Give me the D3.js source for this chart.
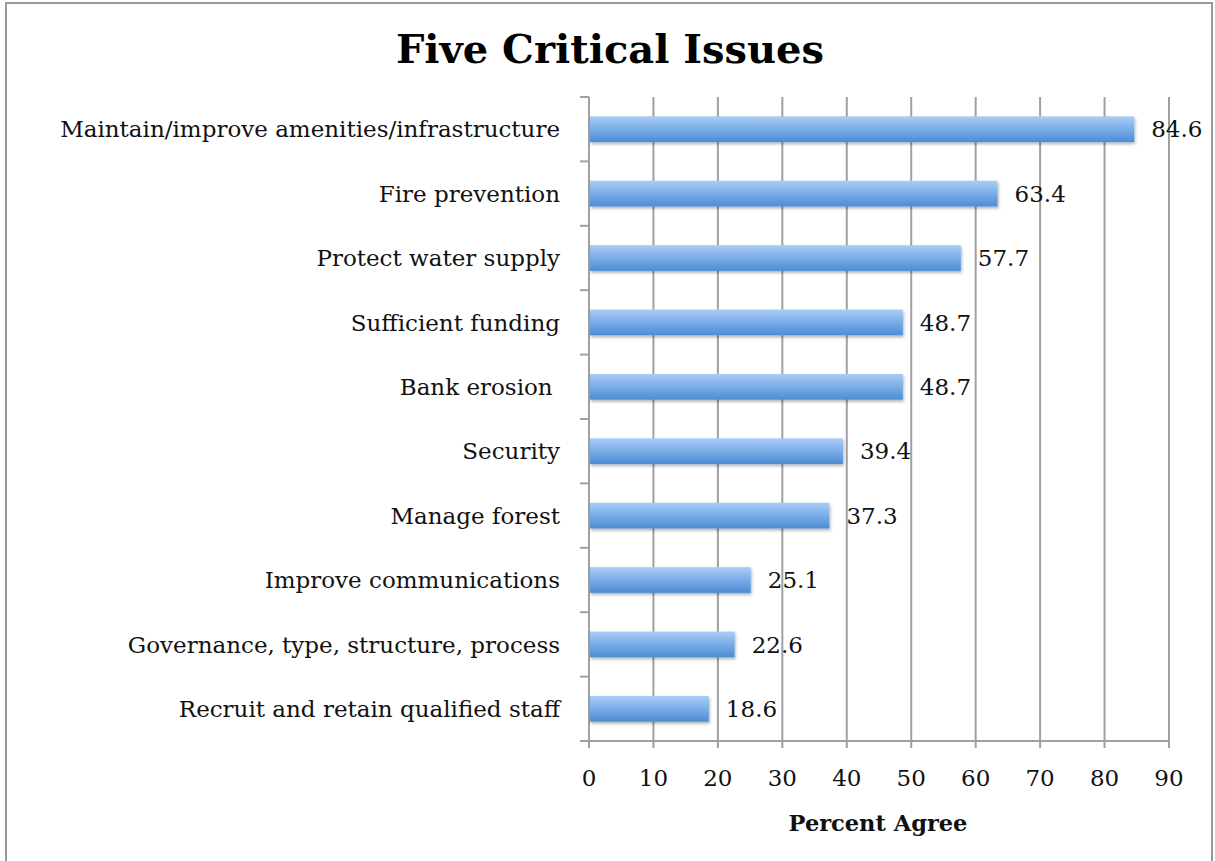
<!DOCTYPE html>
<html><head><meta charset="utf-8">
<script src="https://cdn.jsdelivr.net/npm/d3@7"></script>
<style>body{margin:0;background:#fff}svg{display:block}</style>
</head><body>
<svg id="c" width="1215" height="861"></svg>
<script>
const categories = ["Maintain/improve amenities/infrastructure","Fire prevention","Protect water supply","Sufficient funding","Bank erosion ","Security","Manage forest","Improve communications","Governance, type, structure, process","Recruit and retain qualified staff"];
const values = [84.6,63.4,57.7,48.7,48.7,39.4,37.3,25.1,22.6,18.6];
const xTicks = [0,10,20,30,40,50,60,70,80,90];
const title = "Five Critical Issues";
const xTitle = "Percent Agree";

(function(){
const svg = d3.select("#c");
const serif = "'DejaVu Serif', serif";
const pL = 589, pR = 1169, pT = 97, pB = 741;
const fs = 23;

const defs = svg.append("defs");
const g1 = defs.append("linearGradient").attr("id","bg").attr("x1",0).attr("y1",0).attr("x2",0).attr("y2",1);
g1.append("stop").attr("offset","0%").attr("stop-color","#a9cdf7");
g1.append("stop").attr("offset","100%").attr("stop-color","#4b8cd6");
const f = defs.append("filter").attr("id","sh").attr("x","-5%").attr("y","-20%").attr("width","115%").attr("height","160%");
f.append("feDropShadow").attr("dx",1).attr("dy",2).attr("stdDeviation",1.5).attr("flood-color","#000").attr("flood-opacity",0.3);

svg.append("rect").attr("x",6).attr("y",3).attr("width",1206).attr("height",870).attr("fill","#fff").attr("stroke","#999").attr("stroke-width",2);

const x = d3.scaleLinear().domain([0,90]).range([pL,pR]);
const y = d3.scaleBand().domain(categories).range([pT,pB]).paddingInner(0.6).paddingOuter(0.3);

svg.append("g").selectAll("line").data(xTicks).join("line")
  .attr("x1",d=>x(d)).attr("x2",d=>x(d)).attr("y1",pT).attr("y2",pB+7)
  .attr("stroke","#a0a0a0").attr("stroke-width",2);

svg.append("line").attr("x1",pL-9).attr("x2",pR+1).attr("y1",pB).attr("y2",pB).attr("stroke","#a0a0a0").attr("stroke-width",2);

const bounds = categories.map((c,i)=>pT + i*(pB-pT)/categories.length).concat([pB]);
svg.append("g").selectAll("line").data(bounds).join("line")
  .attr("x1",pL-9).attr("x2",pL).attr("y1",d=>d).attr("y2",d=>d)
  .attr("stroke","#a0a0a0").attr("stroke-width",2);

svg.append("g").selectAll("rect").data(values).join("rect")
  .attr("x",x(0)+1).attr("y",(d,i)=>y(categories[i]))
  .attr("width",d=>x(d)-x(0)-1).attr("height",y.bandwidth())
  .attr("fill","url(#bg)").attr("filter","url(#sh)");

svg.append("g").selectAll("text").data(values).join("text")
  .attr("x",d=>x(d)+17).attr("y",(d,i)=>y(categories[i])+y.bandwidth()/2)
  .attr("dy","0.36em").attr("font-family",serif).attr("font-size",fs).attr("fill","#111")
  .text(d=>d.toFixed(1));

svg.append("g").selectAll("text").data(categories).join("text")
  .attr("x",560).attr("y",d=>y(d)+y.bandwidth()/2)
  .attr("dy","0.36em").attr("text-anchor","end").attr("font-family",serif).attr("font-size",fs).attr("fill","#111")
  .style("white-space","pre")
  .text(d=>d);

svg.append("g").selectAll("text").data(xTicks).join("text")
  .attr("x",d=>x(d)).attr("y",786).attr("text-anchor","middle")
  .attr("font-family",serif).attr("font-size",fs).attr("fill","#111").text(d=>d);

svg.append("text").attr("x",610).attr("y",63).attr("text-anchor","middle")
  .attr("font-family",serif).attr("font-weight","bold").attr("font-size",40).attr("fill","#000").text(title);
svg.append("text").attr("x",878).attr("y",831).attr("text-anchor","middle")
  .attr("font-family",serif).attr("font-weight","bold").attr("font-size",22.5).attr("fill","#111").text(xTitle);
})();
</script>
</body></html>
